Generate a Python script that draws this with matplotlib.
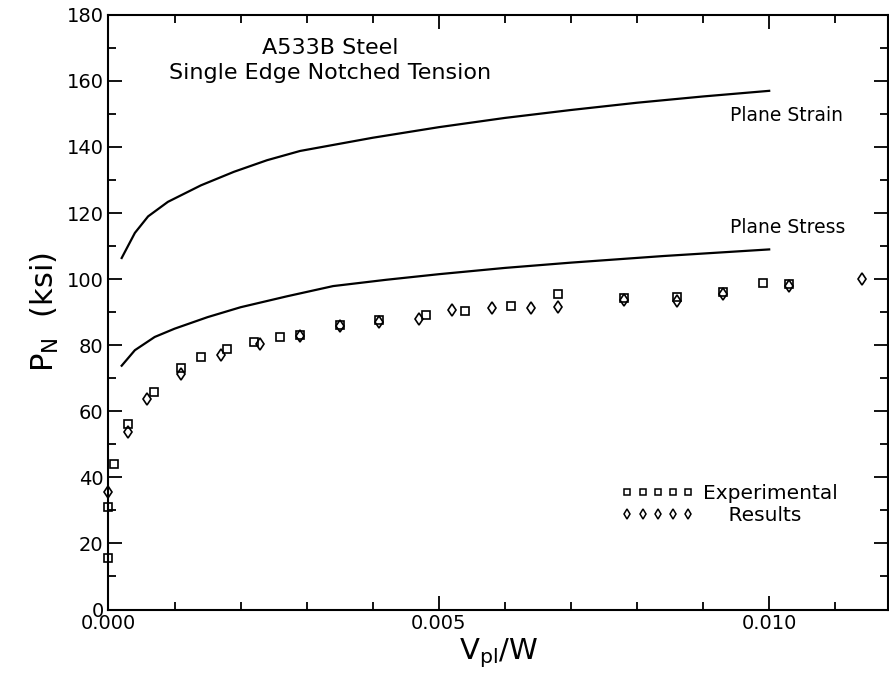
import matplotlib
matplotlib.use('Agg')
import matplotlib.pyplot as plt
from matplotlib.ticker import MultipleLocator, FormatStrFormatter
from matplotlib.lines import Line2D

# Limit load curves
strain_x = [0.0002, 0.0004, 0.0006, 0.0009, 0.0014, 0.0019, 0.0024, 0.0029,
            0.004, 0.005, 0.006, 0.007, 0.008, 0.009, 0.010]
strain_y = [106.4, 114.0, 119.0, 123.4, 128.4, 132.5, 136.0, 138.8,
            142.8, 146.0, 148.8, 151.2, 153.4, 155.3, 157.0]

stress_x = [0.0002, 0.0004, 0.0007, 0.001, 0.0015, 0.002, 0.0027, 0.0034,
            0.0042, 0.005, 0.006, 0.007, 0.0084, 0.010]
stress_y = [73.8, 78.5, 82.5, 85.0, 88.5, 91.5, 94.8, 97.9,
            99.8, 101.5, 103.4, 105.0, 107.0, 109.0]

# Experimental results
sq_x = [0.0, 0.0, 0.00009, 0.0003, 0.00069, 0.0011, 0.0014, 0.0018, 0.0022,
        0.0026, 0.0029, 0.0035, 0.0041, 0.0048, 0.0054, 0.0061, 0.0068,
        0.0078, 0.0086, 0.0093, 0.0099, 0.0103]
sq_y = [15.5, 31.0, 44.0, 56.3, 65.7, 73.0, 76.5, 79.0, 81.0,
        82.5, 83.2, 86.2, 87.6, 89.1, 90.3, 91.9, 95.5,
        94.3, 94.6, 96.2, 98.7, 98.6]

dm_x = [0.0, 0.0003, 0.00059, 0.0011, 0.0017, 0.0023, 0.0029, 0.0035, 0.0041,
        0.0047, 0.0052, 0.0058, 0.0064, 0.0068, 0.0078, 0.0086, 0.0093,
        0.0103, 0.0114]
dm_y = [35.6, 53.6, 63.6, 71.3, 77.0, 80.4, 82.8, 85.9, 86.9,
        87.9, 90.8, 91.4, 91.3, 91.7, 93.8, 93.5, 95.6,
        97.8, 100.0]

fig = plt.figure(figsize=(8.89, 6.75), dpi=100)
ax = fig.add_axes([0.122, 0.097, 0.877, 0.881])

ax.plot(strain_x, strain_y, color='black', lw=1.6)
ax.plot(stress_x, stress_y, color='black', lw=1.6)
ax.plot(sq_x, sq_y, ls='none', marker='s', ms=5.5, mfc='none', mec='black', mew=1.2, clip_on=False)
ax.plot(dm_x, dm_y, ls='none', marker='d', ms=6.5, mfc='none', mec='black', mew=1.2, clip_on=False)

ax.text(0.0094, 149.5, 'Plane Strain', fontsize=13.5, ha='left', va='center')
ax.text(0.0094, 115.5, 'Plane Stress', fontsize=13.5, ha='left', va='center')
ax.text(0.00336, 170, 'A533B Steel', fontsize=16, ha='center', va='center')
ax.text(0.00336, 162.3, 'Single Edge Notched Tension', fontsize=16, ha='center', va='center')

handles = [Line2D([], [], ls='none', marker='s', ms=4, mfc='none', mec='black', mew=1.1),
           Line2D([], [], ls='none', marker='d', ms=5, mfc='none', mec='black', mew=1.1)]
ax.legend(handles, ['Experimental', '    Results'], numpoints=5, handlelength=3.6,
          frameon=False, fontsize=14.5, loc='lower left', bbox_to_anchor=(0.645, 0.125),
          labelspacing=0.15, handletextpad=0.45, borderpad=0)

ax.set_xlim(0, 0.0118)
ax.set_ylim(0, 180)
ax.xaxis.set_major_locator(MultipleLocator(0.005))
ax.xaxis.set_minor_locator(MultipleLocator(0.001))
ax.yaxis.set_major_locator(MultipleLocator(20))
ax.yaxis.set_minor_locator(MultipleLocator(10))
ax.xaxis.set_major_formatter(FormatStrFormatter('%.3f'))
ax.tick_params(which='both', direction='in', top=True, right=True, labelsize=14, width=1.3)
ax.tick_params(which='major', length=10)
ax.tick_params(which='minor', length=6)
for s in ax.spines.values():
    s.set_linewidth(1.5)

ax.set_xlabel(r'V$_\mathrm{pl}$/W', fontsize=21, labelpad=2)
ax.set_ylabel(r'P$_\mathrm{N}$  (ksi)', fontsize=22, labelpad=4)

fig.savefig('out.png', dpi=100)
